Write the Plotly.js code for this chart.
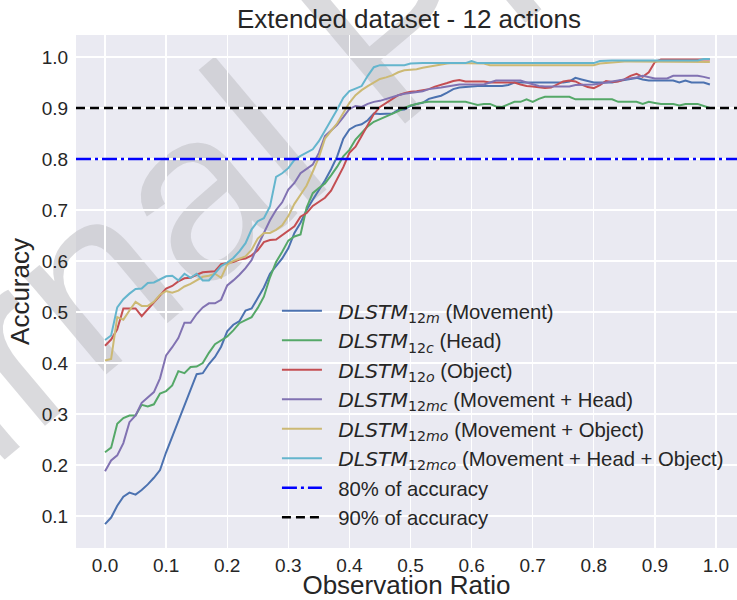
<!DOCTYPE html>
<html>
<head>
<meta charset="utf-8">
<script src="https://cdn.plot.ly/plotly-3.0.1.min.js"></script>
<style>
html,body{margin:0;padding:0;overflow:hidden;background:#fff;}
#chart{width:737px;height:600px;}
</style>
</head>
<body>
<div id="chart"></div>
<script>
// Observation ratio (x)
const ratio = [0.00,0.01,0.02,0.03,0.04,0.05,0.06,0.07,0.08,0.09,
0.10,0.11,0.12,0.13,0.14,0.15,0.16,0.17,0.18,0.19,
0.20,0.21,0.22,0.23,0.24,0.25,0.26,0.27,0.28,0.29,
0.30,0.31,0.32,0.33,0.34,0.35,0.36,0.37,0.38,0.39,
0.40,0.41,0.42,0.43,0.44,0.45,0.46,0.47,0.48,0.49,
0.50,0.51,0.52,0.53,0.54,0.55,0.56,0.57,0.58,0.59,
0.60,0.61,0.62,0.63,0.64,0.65,0.66,0.67,0.68,0.69,
0.70,0.71,0.72,0.73,0.74,0.75,0.76,0.77,0.78,0.79,
0.80,0.81,0.82,0.83,0.84,0.85,0.86,0.87,0.88,0.89,
0.90,0.91,0.92,0.93,0.94,0.95,0.96,0.97,0.98,0.99];

const accMovement = [.084,.097,.12,.138,.146,.142,.151,.162,.175,.19,
.225,.256,.285,.316,.348,.378,.38,.398,.412,.432,
.462,.475,.482,.503,.507,.527,.548,.575,.59,.605,
.625,.655,.675,.7,.72,.738,.758,.78,.805,.84,
.858,.865,.868,.876,.889,.888,.888,.889,.896,.897,
.904,.908,.91,.918,.921,.924,.93,.937,.94,.941,
.943,.943,.943,.943,.943,.943,.945,.95,.95,.95,
.95,.95,.95,.95,.95,.95,.952,.959,.956,.953,
.95,.95,.95,.95,.953,.955,.957,.959,.956,.954,
.954,.954,.954,.954,.95,.954,.95,.95,.95,.946];

const accHead = [.225,.234,.281,.292,.297,.297,.318,.315,.319,.34,
.345,.356,.384,.38,.392,.393,.4,.42,.437,.445,
.452,.464,.478,.484,.49,.508,.53,.568,.598,.618,
.64,.648,.652,.705,.733,.743,.752,.768,.785,.805,
.818,.838,.852,.864,.873,.878,.883,.889,.894,.9,
.905,.908,.911,.912,.912,.912,.912,.912,.912,.912,
.909,.906,.908,.908,.903,.902,.907,.912,.912,.917,
.912,.918,.922,.922,.922,.922,.922,.917,.917,.917,
.917,.917,.917,.917,.912,.912,.912,.912,.908,.912,
.91,.908,.908,.908,.905,.908,.908,.908,.904,.9];

const accObject = [.434,.446,.466,.507,.507,.507,.492,.505,.518,.531,
.546,.551,.56,.566,.567,.573,.578,.579,.58,.594,
.596,.598,.603,.605,.611,.621,.637,.641,.642,.651,
.66,.668,.687,.694,.708,.716,.724,.738,.76,.784,
.812,.824,.845,.866,.888,.902,.91,.918,.925,.929,
.932,.933,.935,.937,.942,.945,.949,.953,.955,.952,
.952,.952,.952,.95,.95,.95,.95,.95,.946,.943,
.942,.94,.939,.94,.946,.952,.954,.952,.946,.941,
.939,.945,.953,.951,.952,.956,.963,.967,.961,.97,
.99,.995,.995,.995,.995,.995,.995,.995,.995,.995];

const accMovHead = [.188,.209,.219,.243,.284,.297,.322,.333,.343,.37,
.415,.431,.449,.479,.479,.496,.509,.517,.517,.524,
.552,.562,.573,.586,.602,.63,.655,.68,.7,.715,
.74,.753,.772,.781,.789,.812,.845,.856,.867,.882,
.898,.904,.902,.908,.912,.914,.918,.921,.925,.928,
.93,.931,.933,.937,.938,.94,.942,.944,.946,.946,
.946,.946,.946,.95,.954,.954,.954,.954,.954,.95,
.946,.943,.942,.942,.942,.942,.942,.945,.945,.946,
.946,.948,.95,.951,.953,.955,.957,.96,.963,.96,
.958,.958,.958,.963,.963,.963,.963,.963,.961,.958];

const accMovObj = [.405,.408,.49,.485,.503,.52,.512,.512,.52,.534,
.541,.538,.542,.55,.555,.562,.569,.571,.575,.567,
.593,.6,.604,.609,.622,.644,.655,.655,.661,.67,
.688,.712,.73,.748,.775,.803,.84,.856,.87,.89,
.91,.925,.935,.943,.95,.957,.96,.964,.97,.974,
.975,.976,.979,.981,.984,.985,.987,.988,.988,.988,
.988,.988,.987,.984,.984,.984,.984,.984,.984,.984,
.984,.984,.984,.984,.984,.984,.984,.984,.984,.984,
.984,.987,.988,.99,.991,.991,.991,.991,.991,.991,
.991,.991,.991,.991,.991,.991,.991,.991,.991,.99];

const accAll = [.445,.454,.509,.525,.536,.545,.546,.557,.558,.564,
.57,.571,.562,.575,.567,.575,.562,.562,.575,.59,
.597,.606,.619,.635,.662,.678,.684,.707,.765,.772,
.782,.798,.806,.812,.819,.835,.855,.877,.897,.92,
.933,.938,.943,.963,.98,.984,.984,.984,.984,.984,
.987,.988,.988,.988,.988,.988,.988,.988,.988,.988,
.992,.988,.988,.988,.988,.988,.988,.988,.988,.988,
.988,.988,.988,.988,.988,.988,.988,.988,.988,.988,
.988,.992,.993,.993,.993,.993,.993,.993,.993,.993,
.993,.993,.993,.993,.993,.993,.993,.993,.996,.996];

const pad = '\u00A0\u00A0';
const seriesNames = [
  pad + '<span style="font-family:DejaVu Sans"><i>DLSTM</i><sub>12<i>m</i></sub></span> (Movement)',
  pad + '<span style="font-family:DejaVu Sans"><i>DLSTM</i><sub>12<i>c</i></sub></span> (Head)',
  pad + '<span style="font-family:DejaVu Sans"><i>DLSTM</i><sub>12<i>o</i></sub></span> (Object)',
  pad + '<span style="font-family:DejaVu Sans"><i>DLSTM</i><sub>12<i>mc</i></sub></span> (Movement + Head)',
  pad + '<span style="font-family:DejaVu Sans"><i>DLSTM</i><sub>12<i>mo</i></sub></span> (Movement + Object)',
  pad + '<span style="font-family:DejaVu Sans"><i>DLSTM</i><sub>12<i>mco</i></sub></span> (Movement + Head + Object)'
];
const seriesValues = [accMovement, accHead, accObject, accMovHead, accMovObj, accAll];
const seriesColors = ['#4C72B0','#55A868','#C44E52','#8172B2','#CCB974','#64B5CD'];

const thresholds = [0.8, 0.9];
const thresholdNames = [pad + '80% of accuracy', pad + '90% of accuracy'];
const thresholdColors = ['#0000FF', '#000000'];
const thresholdDash = ['15px,4px,3px,4px', '9px,5px'];

const xTicks = [0,0.1,0.2,0.3,0.4,0.5,0.6,0.7,0.8,0.9,1.0];
const yTicks = [0.1,0.2,0.3,0.4,0.5,0.6,0.7,0.8,0.9,1.0];
const xRange = [-0.0475, 1.0344];
const yRange = [0.0373, 1.0431];

const traces = [];
seriesValues.forEach((vals, i) => {
  traces.push({
    x: ratio, y: vals, type: 'scatter', mode: 'lines',
    name: seriesNames[i], legendgroup: 'g' + i,
    line: {color: seriesColors[i], width: 2}
  });
});
thresholds.forEach((t, i) => {
  traces.push({
    x: xRange, y: [t, t], type: 'scatter', mode: 'lines',
    name: thresholdNames[i], legendgroup: 'h' + i,
    line: {color: thresholdColors[i], width: 2.5, dash: thresholdDash[i]}
  });
});

const font = 'Liberation Sans, Arial, sans-serif';
const layout = {
  width: 737, height: 600,
  margin: {l: 76, r: 0, t: 35, b: 52, pad: 0},
  paper_bgcolor: '#ffffff',
  plot_bgcolor: '#EAEAF2',
  font: {family: font, color: '#262626'},
  title: {
    text: 'Extended dataset - 12 actions',
    font: {family: font, size: 26, color: '#262626'},
    x: 409/737, xref: 'container', xanchor: 'center',
    y: 0.968, yref: 'container', yanchor: 'middle'
  },
  xaxis: {
    range: xRange, tickvals: xTicks, tickformat: '.1f',
    showgrid: true, gridcolor: '#ffffff', gridwidth: 1.3,
    zeroline: false, showline: false,
    ticks: '', ticklabelstandoff: 4,
    tickfont: {family: font, size: 19, color: '#262626'},
    title: {text: 'Observation Ratio', font: {family: font, size: 26, color: '#262626'}, standoff: 7}
  },
  yaxis: {
    range: yRange, tickvals: yTicks, tickformat: '.1f',
    showgrid: true, gridcolor: '#ffffff', gridwidth: 1.3,
    zeroline: false, showline: false,
    ticks: 'outside', ticklen: 3, tickcolor: 'rgba(0,0,0,0)',
    tickfont: {family: font, size: 19, color: '#262626'},
    title: {text: 'Accuracy', font: {family: font, size: 26, color: '#262626'}, standoff: 4}
  },
  legend: {
    x: 0.304, y: 0.5007, xanchor: 'left', yanchor: 'top',
    bgcolor: 'rgba(0,0,0,0)', borderwidth: 0,
    font: {family: font, size: 20.3, color: '#262626'},
    traceorder: 'grouped', tracegroupgap: 0.1, itemwidth: 40
  },
  shapes: [{
    type: 'rect', xref: 'paper', yref: 'paper',
    x0: 0.4559, x1: 0.4579, y0: 1.0516, y1: 1.0536,
    line: {width: 0}, fillcolor: 'rgba(0,0,0,0)', layer: 'below',
    label: {
      text: 'Journal Pre-proof', textangle: -40, textposition: 'middle center',
      font: {family: font, size: 240, color: 'rgba(194,194,198,0.6)'}
    }
  }],
  showlegend: true
};

Plotly.newPlot('chart', traces, layout, {displayModeBar: false, staticPlot: true});
</script>
</body>
</html>
